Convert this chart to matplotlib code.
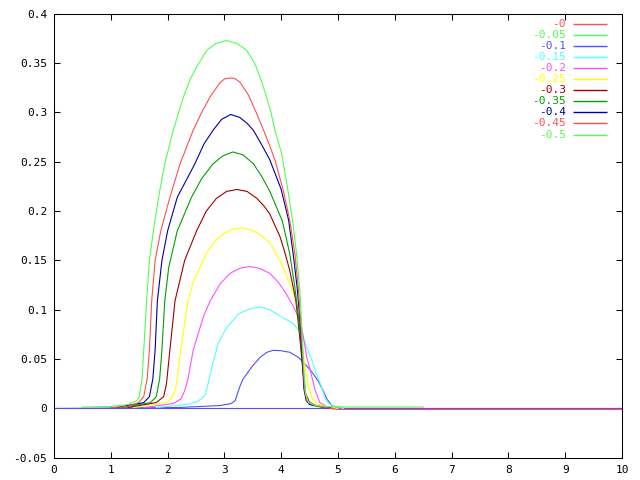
import matplotlib
matplotlib.use("Agg")
import matplotlib.pyplot as plt
from matplotlib.ticker import FixedLocator, FuncFormatter

plt.rcParams["font.family"] = ["DejaVu Sans Mono"]

# ---- data ----
labels = ["-0", "-0.05", "-0.1", "-0.15", "-0.2", "-0.25",
          "-0.3", "-0.35", "-0.4", "-0.45", "-0.5"]
colors = ["#ff5050", "#50ff50", "#5050ff", "#50ffff", "#ff50ff", "#ffff00",
          "#a00000", "#00a000", "#0000a0", "#ff5050", "#50ff50"]

x_m00 = [0, 10]
y_m00 = [0, 0]
x_m05 = [0, 10]
y_m05 = [0, 0]
x_m10 = [0, 2.2, 2.92, 3.12, 3.19, 3.27, 3.33, 3.48, 3.63, 3.75, 3.86, 4.00, 4.15, 4.30, 4.39,
         4.54, 4.65, 4.74, 4.80, 4.89, 5.0, 5.1, 10]
y_m10 = [0, 0.001, 0.003, 0.005, 0.008, 0.022, 0.030, 0.042, 0.052, 0.057, 0.059, 0.0585, 0.057, 0.052, 0.047,
         0.037, 0.028, 0.018, 0.010, 0.003, 0.001, 0, 0]
x_m15 = [1.8, 2.34, 2.52, 2.60, 2.66, 2.70, 2.78, 2.89, 3.04, 3.25, 3.45, 3.64, 3.80, 3.98, 4.21,
         4.36, 4.45, 4.54, 4.62, 4.71, 4.77, 4.83, 4.95, 5.1]
y_m15 = [0.001, 0.004, 0.007, 0.010, 0.014, 0.022, 0.042, 0.066, 0.082, 0.096, 0.101, 0.103, 0.100, 0.094, 0.086,
         0.076, 0.062, 0.049, 0.035, 0.022, 0.011, 0.005, 0.002, 0]
x_m20 = [1.6, 2.10, 2.24, 2.30, 2.36, 2.45, 2.63, 2.75, 2.92, 3.10, 3.27, 3.44, 3.62, 3.80, 3.95, 4.08,
         4.21, 4.33, 4.38, 4.45, 4.54, 4.60, 4.68, 4.8, 5.0]
y_m20 = [0.001, 0.005, 0.010, 0.018, 0.030, 0.059, 0.093, 0.109, 0.126, 0.137, 0.142, 0.144, 0.142, 0.137, 0.128, 0.117,
         0.104, 0.089, 0.076, 0.052, 0.032, 0.018, 0.006, 0.002, 0]
x_m25 = [1.4, 1.98, 2.08, 2.14, 2.18, 2.23, 2.36, 2.45, 2.57, 2.69, 2.84, 2.98, 3.15, 3.32, 3.48, 3.63,
         3.80, 3.98, 4.13, 4.24, 4.33, 4.40, 4.47, 4.55, 4.65, 4.8, 5.0]
y_m25 = [0.001, 0.006, 0.011, 0.020, 0.035, 0.059, 0.109, 0.128, 0.143, 0.158, 0.170, 0.177, 0.182, 0.183, 0.181, 0.176,
         0.168, 0.150, 0.130, 0.113, 0.080, 0.050, 0.025, 0.010, 0.004, 0.002, 0]
x_m30 = [1.3, 1.80, 1.93, 1.98, 2.04, 2.13, 2.30, 2.51, 2.68, 2.86, 3.04, 3.22, 3.40, 3.57, 3.70,
         3.80, 3.98, 4.07, 4.15, 4.21, 4.26, 4.33, 4.38, 4.43, 4.50, 4.65, 4.9]
y_m30 = [0.001, 0.006, 0.012, 0.025, 0.059, 0.109, 0.150, 0.180, 0.200, 0.213, 0.220, 0.222, 0.220, 0.213, 0.205,
         0.197, 0.174, 0.157, 0.140, 0.123, 0.109, 0.070, 0.040, 0.015, 0.006, 0.002, 0]
x_m35 = [1.2, 1.70, 1.80, 1.86, 1.90, 1.95, 2.02, 2.17, 2.42, 2.60, 2.80, 2.97, 3.15, 3.33, 3.51, 3.66,
         3.80, 4.02, 4.15, 4.24, 4.31, 4.37, 4.41, 4.45, 4.55, 4.9]
y_m35 = [0.001, 0.006, 0.012, 0.030, 0.059, 0.109, 0.143, 0.180, 0.214, 0.233, 0.248, 0.256, 0.260, 0.257, 0.248, 0.235,
         0.220, 0.190, 0.157, 0.123, 0.090, 0.050, 0.020, 0.008, 0.003, 0]
x_m40 = [1.1, 1.58, 1.68, 1.74, 1.78, 1.82, 1.90, 2.00, 2.17, 2.48, 2.64, 2.80, 2.95, 3.11, 3.27,
         3.40, 3.51, 3.65, 3.80, 4.00, 4.13, 4.21, 4.28, 4.33, 4.37, 4.40, 4.44, 4.5, 4.7, 4.9]
y_m40 = [0.001, 0.006, 0.012, 0.030, 0.059, 0.109, 0.150, 0.180, 0.214, 0.248, 0.268, 0.282, 0.293, 0.298, 0.295,
         0.289, 0.282, 0.268, 0.252, 0.222, 0.191, 0.157, 0.123, 0.090, 0.050, 0.020, 0.008, 0.004, 0.002, 0]
x_m45 = [1.0, 1.3, 1.49, 1.58, 1.64, 1.68, 1.72, 1.78, 1.88, 2.04, 2.22, 2.45, 2.60, 2.75, 2.92,
         3.00, 3.10, 3.18, 3.27, 3.42, 3.56, 3.69, 3.80, 3.90, 4.04, 4.15, 4.24, 4.30, 4.34,
         4.38, 4.41, 4.45, 4.6, 4.98, 10]
y_m45 = [0.001, 0.002, 0.006, 0.012, 0.030, 0.059, 0.109, 0.150, 0.180, 0.214, 0.248, 0.282, 0.300, 0.316, 0.330,
         0.334, 0.335, 0.3345, 0.331, 0.318, 0.300, 0.282, 0.266, 0.250, 0.220, 0.191, 0.157, 0.123, 0.090,
         0.050, 0.020, 0.008, 0.003, -0.001, -0.001]
x_m50 = [0.5, 1.0, 1.3, 1.46, 1.50, 1.55, 1.58, 1.63, 1.68, 1.75, 1.84, 1.95, 2.10, 2.28, 2.40,
         2.54, 2.69, 2.85, 3.04, 3.22, 3.39, 3.54, 3.64, 3.74, 3.82, 3.89, 4.01, 4.11, 4.20,
         4.27, 4.33, 4.37, 4.40, 4.43, 4.48, 4.6, 4.8, 5.2, 6.5]
y_m50 = [0.0015, 0.002, 0.004, 0.008, 0.012, 0.030, 0.059, 0.109, 0.150, 0.180, 0.214, 0.248, 0.282, 0.316, 0.334,
         0.349, 0.363, 0.370, 0.373, 0.370, 0.363, 0.349, 0.334, 0.316, 0.300, 0.282, 0.258, 0.224, 0.191,
         0.157, 0.118, 0.075, 0.040, 0.015, 0.006, 0.003, 0.002, 0.0015, 0.0015]

xs = [x_m00, x_m05, x_m10, x_m15, x_m20, x_m25, x_m30, x_m35, x_m40, x_m45, x_m50]
ys = [y_m00, y_m05, y_m10, y_m15, y_m20, y_m25, y_m30, y_m35, y_m40, y_m45, y_m50]

x_ticks = [0, 1, 2, 3, 4, 5, 6, 7, 8, 9, 10]
y_ticks = [-0.05, 0, 0.05, 0.1, 0.15, 0.2, 0.25, 0.3, 0.35, 0.4]

LW = 0.8
AX_B = 22.17  # axes bottom in px, puts y=0 on a pixel centre
AX_H = 444.0

# ---- figure ----
fig = plt.figure(figsize=(6.4, 4.8), dpi=100)
ax = fig.add_axes([54 / 640, AX_B / 480, 568 / 640, AX_H / 480])

for i, (x, y, col) in enumerate(zip(xs, ys, colors)):
    ax.plot(x, y, color=col, lw=LW, zorder=2 + i * 0.01)
    if i == 1:
        # blue zero line shown under all humps
        ax.axhline(0, color=colors[2], lw=0.72, zorder=2.015)

ax.set_xlim(0, 10)
ax.set_ylim(-0.05, 0.4)
ax.xaxis.set_major_locator(FixedLocator(x_ticks))
ax.yaxis.set_major_locator(FixedLocator(y_ticks))
ax.yaxis.set_major_formatter(FuncFormatter(lambda v, p: f"{round(v, 4) + 0:g}"))
ax.tick_params(direction="in", length=4.3, width=0.75, top=True, right=True,
               labelsize=8, colors="black")
ax.tick_params(axis="y", pad=5)
ax.tick_params(axis="x", pad=5)
for s in ax.spines.values():
    s.set_linewidth(0.75)

# gnuplot-style key: right-aligned labels, sample line to the right
for i, (lab, col) in enumerate(zip(labels, colors)):
    yy = (455.5 - 11 * i - AX_B) / AX_H
    ax.text(0.901, yy, lab, color=col, fontsize=8, ha="right", va="center",
            transform=ax.transAxes)
    ax.plot([0.914, 0.974], [yy, yy], color=col, lw=1.0, solid_capstyle="butt",
            transform=ax.transAxes)

fig.savefig("out.png", dpi=100)
